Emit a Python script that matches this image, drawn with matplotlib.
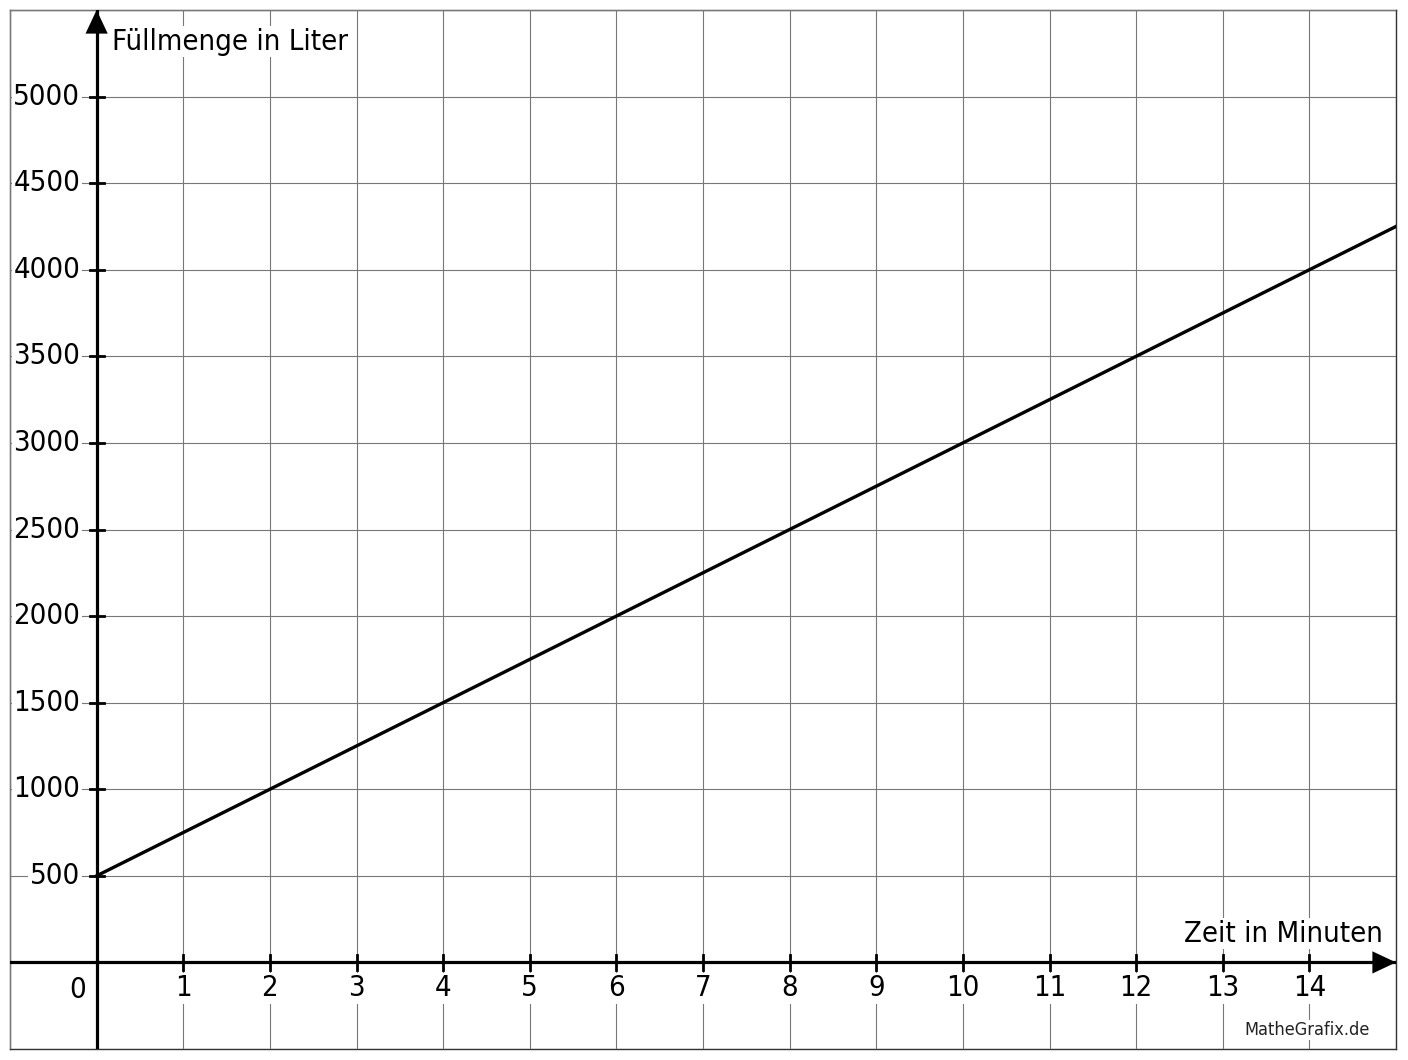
import matplotlib
matplotlib.use("Agg")
import matplotlib.pyplot as plt

# Füllmenge eines Behälters: y = 500 + 250 * t
zeit = [0, 15]
menge = [500, 4250]
x_ticks = list(range(1, 15))
y_ticks = list(range(500, 5001, 500))

plt.rcParams['font.family'] = ['DejaVu Sans']

fig = plt.figure(figsize=(14.08, 10.6), dpi=100)
ax = fig.add_axes([10/1408, 11/1060, 1386/1408, 1039/1060])
ax.set_xlim(-1, 15)
ax.set_ylim(-500, 5500)

# grid
ax.set_xticks(range(-1, 16), minor=True)
ax.set_yticks(range(-500, 5501, 500), minor=True)
ax.grid(which='minor', color='#777777', lw=0.8)
ax.tick_params(which='minor', length=0)

for s in ax.spines.values():
    s.set_color('#333333')
    s.set_linewidth(1.0)
    s.set_zorder(1)

# axes through origin
ax.axhline(0, color='black', lw=2.3, zorder=3)
ax.axvline(0, color='black', lw=2.3, zorder=3)
pfeil = dict(arrowstyle='-|>,head_length=0.85,head_width=0.4', color='black',
             lw=0, mutation_scale=20, shrinkA=0, shrinkB=0)
ax.annotate('', xy=(0, 1), xycoords=('data', 'axes fraction'),
            xytext=(0, 0.95), textcoords=('data', 'axes fraction'),
            arrowprops=pfeil, zorder=4, annotation_clip=False)
ax.annotate('', xy=(1, 0), xycoords=('axes fraction', 'data'),
            xytext=(0.95, 0), textcoords=('axes fraction', 'data'),
            arrowprops=pfeil, zorder=4, annotation_clip=False)

fs = 21
st = 'condensed'

# ticks on the axes
ax.set_xticks([])
ax.set_yticks([])
for xt in x_ticks:
    ax.plot([xt, xt], [-45, 45], color='black', lw=2, zorder=3)
    ax.text(xt, -150, str(xt), ha='center', va='center', fontsize=fs,
            fontstretch=st, zorder=5, bbox=dict(fc='white', ec='none', pad=1))
for yt in y_ticks:
    ax.plot([-0.08, 0.08], [yt, yt], color='black', lw=2, zorder=3)
    ax.text(-0.19, yt, str(yt), ha='right', va='center', fontsize=fs,
            fontstretch=st, zorder=5, bbox=dict(fc='white', ec='none', pad=1))
ax.text(-0.22, -160, '0', ha='center', va='center', fontsize=fs,
        fontstretch=st, zorder=5, bbox=dict(fc='white', ec='none', pad=1))

# Graph
ax.plot(zeit, menge, color='black', lw=2.4, zorder=4)

# Beschriftungen
ax.text(0.18, 5318, 'Füllmenge in Liter', ha='left', va='center', fontsize=fs,
        fontstretch=st, zorder=5, bbox=dict(fc='white', ec='none', pad=1))
ax.text(14.85, 165, 'Zeit in Minuten', ha='right', va='center', fontsize=fs,
        fontstretch=st, zorder=5, bbox=dict(fc='white', ec='none', pad=1))
ax.text(14.7, -390, 'MatheGrafix.de', ha='right', va='center', fontsize=13,
        fontstretch=st, color='#222222', zorder=5,
        bbox=dict(fc='white', ec='none', pad=1))

fig.savefig('out.png', dpi=100, facecolor='white')
